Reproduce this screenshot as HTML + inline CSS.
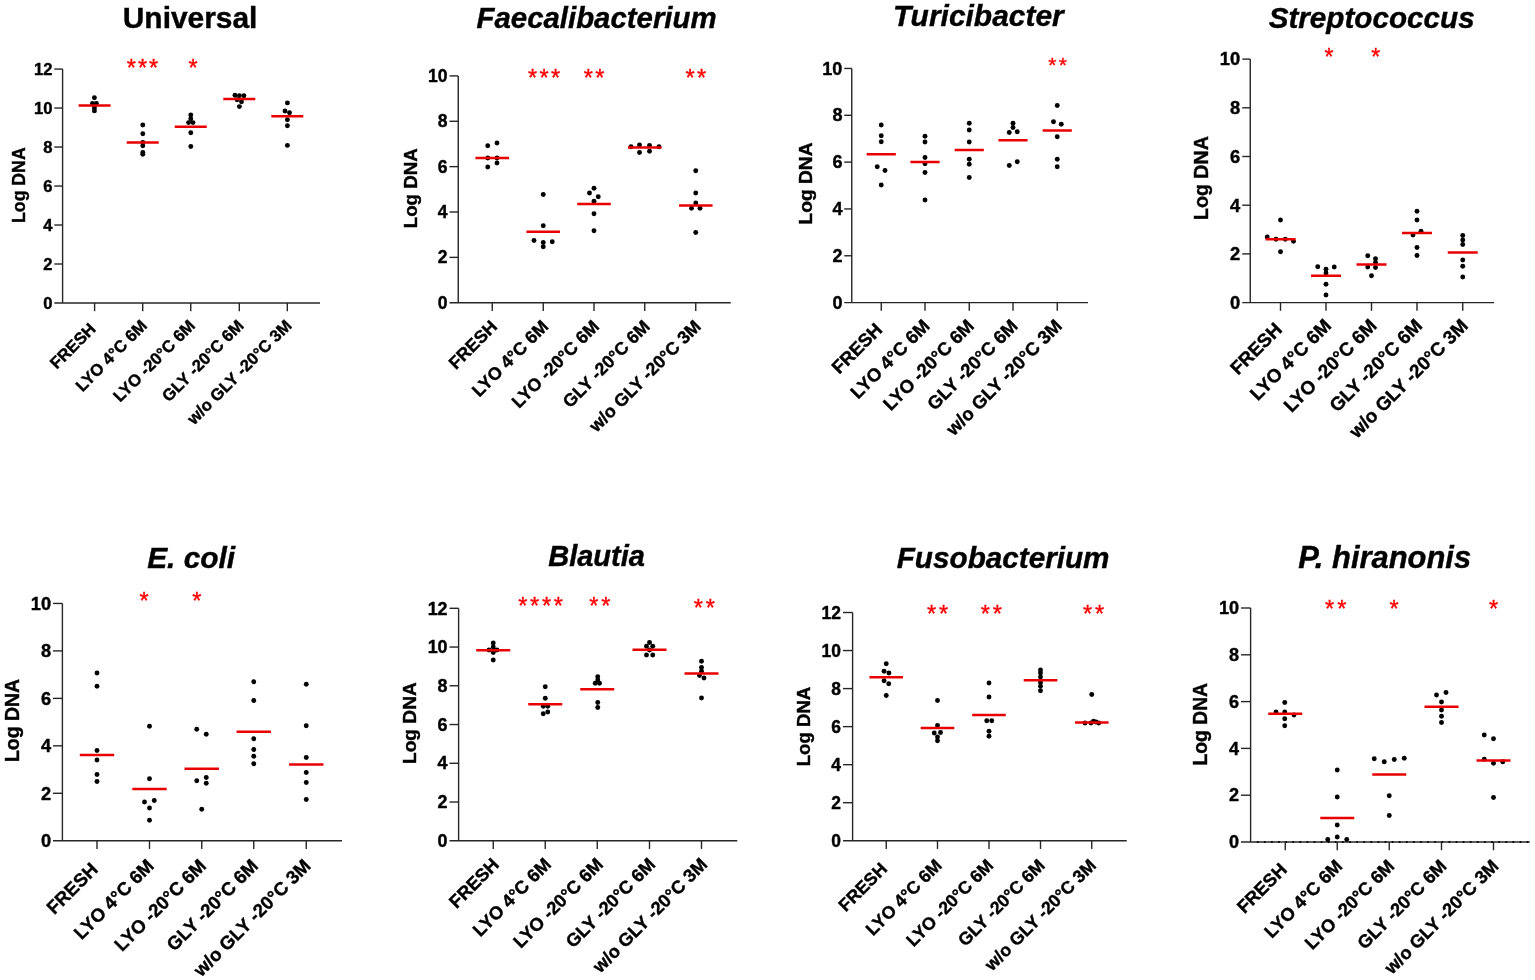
<!DOCTYPE html>
<html><head><meta charset="utf-8"><title>Log DNA by storage condition</title>
<style>html,body{margin:0;padding:0;background:#fff;width:1535px;height:980px;overflow:hidden}svg{display:block}
text{font-family:"Liberation Sans", Arial, sans-serif;font-weight:bold;fill:#000;stroke:#000;stroke-width:0.4px;paint-order:stroke}.s{fill:#f00;stroke:#f00;stroke-width:0.35px;font-weight:normal}</style></head>
<body><svg width="1535" height="980" viewBox="0 0 1535 980">
<rect width="1535" height="980" fill="#fff"/>
<text x="190.1" y="28.25" text-anchor="middle" font-size="29.92">Universal</text>
<line x1="62.6" y1="69.06" x2="62.6" y2="303" stroke="#262626" stroke-width="1.4"/>
<line x1="54.3" y1="303" x2="320" y2="303" stroke="#262626" stroke-width="1.4"/>
<text x="52.4" y="308.73" text-anchor="end" font-size="16.6">0</text>
<line x1="54.3" y1="264.01" x2="62.6" y2="264.01" stroke="#262626" stroke-width="1.4"/>
<text x="52.4" y="269.74" text-anchor="end" font-size="16.6">2</text>
<line x1="54.3" y1="225.02" x2="62.6" y2="225.02" stroke="#262626" stroke-width="1.4"/>
<text x="52.4" y="230.75" text-anchor="end" font-size="16.6">4</text>
<line x1="54.3" y1="186.03" x2="62.6" y2="186.03" stroke="#262626" stroke-width="1.4"/>
<text x="52.4" y="191.76" text-anchor="end" font-size="16.6">6</text>
<line x1="54.3" y1="147.04" x2="62.6" y2="147.04" stroke="#262626" stroke-width="1.4"/>
<text x="52.4" y="152.77" text-anchor="end" font-size="16.6">8</text>
<line x1="54.3" y1="108.05" x2="62.6" y2="108.05" stroke="#262626" stroke-width="1.4"/>
<text x="52.4" y="113.78" text-anchor="end" font-size="16.6">10</text>
<line x1="54.3" y1="69.06" x2="62.6" y2="69.06" stroke="#262626" stroke-width="1.4"/>
<text x="52.4" y="74.79" text-anchor="end" font-size="16.6">12</text>
<line x1="94.6" y1="303" x2="94.6" y2="311.2" stroke="#262626" stroke-width="1.4"/>
<text transform="translate(96.72,329.98) rotate(-45)" text-anchor="end" font-size="16.64">FRESH</text>
<line x1="142.7" y1="303" x2="142.7" y2="311.2" stroke="#262626" stroke-width="1.4"/>
<text transform="translate(148.09,326.71) rotate(-45)" text-anchor="end" font-size="16.64">LYO 4°C 6M</text>
<line x1="190.75" y1="303" x2="190.75" y2="311.2" stroke="#262626" stroke-width="1.4"/>
<text transform="translate(196.14,326.71) rotate(-45)" text-anchor="end" font-size="16.64">LYO -20°C 6M</text>
<line x1="239.3" y1="303" x2="239.3" y2="311.2" stroke="#262626" stroke-width="1.4"/>
<text transform="translate(244.69,326.71) rotate(-45)" text-anchor="end" font-size="16.64">GLY -20°C 6M</text>
<line x1="287.3" y1="303" x2="287.3" y2="311.2" stroke="#262626" stroke-width="1.4"/>
<text transform="translate(292.69,326.71) rotate(-45)" text-anchor="end" font-size="16.64">w/o GLY -20°C 3M</text>
<text transform="translate(24.5,185.15) rotate(-90)" text-anchor="middle" font-size="17.7">Log DNA</text>
<text class="s" x="131.45" y="76.29" text-anchor="middle" font-size="23.5">*</text>
<text class="s" x="142.55" y="76.29" text-anchor="middle" font-size="23.5">*</text>
<text class="s" x="153.65" y="76.29" text-anchor="middle" font-size="23.5">*</text>
<text class="s" x="193.05" y="76.29" text-anchor="middle" font-size="23.5">*</text>
<circle cx="94.4" cy="97.8" r="2.45"/>
<circle cx="92.5" cy="103.5" r="2.45"/>
<circle cx="96.4" cy="103.5" r="2.45"/>
<circle cx="94.4" cy="105.5" r="2.45"/>
<circle cx="94.4" cy="107.9" r="2.45"/>
<circle cx="94.4" cy="110.9" r="2.45"/>
<circle cx="142.8" cy="125" r="2.45"/>
<circle cx="142.8" cy="133.8" r="2.45"/>
<circle cx="142.8" cy="142.5" r="2.45"/>
<circle cx="142.8" cy="145.7" r="2.45"/>
<circle cx="142.8" cy="152.4" r="2.45"/>
<circle cx="142.8" cy="154.3" r="2.45"/>
<circle cx="190.8" cy="114.9" r="2.45"/>
<circle cx="190.8" cy="118.8" r="2.45"/>
<circle cx="188.6" cy="122.6" r="2.45"/>
<circle cx="193" cy="122.6" r="2.45"/>
<circle cx="190.8" cy="132.8" r="2.45"/>
<circle cx="190.8" cy="146.5" r="2.45"/>
<circle cx="235" cy="95.2" r="2.45"/>
<circle cx="239.4" cy="95.7" r="2.45"/>
<circle cx="243.9" cy="95.7" r="2.45"/>
<circle cx="237.1" cy="99.8" r="2.45"/>
<circle cx="241.5" cy="101.7" r="2.45"/>
<circle cx="239.4" cy="106.6" r="2.45"/>
<circle cx="287.4" cy="102.9" r="2.45"/>
<circle cx="285" cy="111" r="2.45"/>
<circle cx="289.5" cy="112.7" r="2.45"/>
<circle cx="287.4" cy="119.8" r="2.45"/>
<circle cx="287.4" cy="125.7" r="2.45"/>
<circle cx="287.4" cy="145.4" r="2.45"/>
<line x1="78.6" y1="105.5" x2="110.6" y2="105.5" stroke="#e80000" stroke-width="2.5"/>
<line x1="126.7" y1="142.5" x2="158.7" y2="142.5" stroke="#e80000" stroke-width="2.5"/>
<line x1="174.75" y1="126.7" x2="206.75" y2="126.7" stroke="#e80000" stroke-width="2.5"/>
<line x1="223.3" y1="99.1" x2="255.3" y2="99.1" stroke="#e80000" stroke-width="2.5"/>
<line x1="271.3" y1="116.2" x2="303.3" y2="116.2" stroke="#e80000" stroke-width="2.5"/>
<text x="596.54" y="28.2" text-anchor="middle" font-size="29.39" font-style="italic">Faecalibacterium</text>
<line x1="458.25" y1="75.9" x2="458.25" y2="302.75" stroke="#262626" stroke-width="1.4"/>
<line x1="449.5" y1="302.75" x2="730.75" y2="302.75" stroke="#262626" stroke-width="1.4"/>
<text x="447.6" y="308.8" text-anchor="end" font-size="17.53">0</text>
<line x1="449.5" y1="257.38" x2="458.25" y2="257.38" stroke="#262626" stroke-width="1.4"/>
<text x="447.6" y="263.43" text-anchor="end" font-size="17.53">2</text>
<line x1="449.5" y1="212.01" x2="458.25" y2="212.01" stroke="#262626" stroke-width="1.4"/>
<text x="447.6" y="218.06" text-anchor="end" font-size="17.53">4</text>
<line x1="449.5" y1="166.64" x2="458.25" y2="166.64" stroke="#262626" stroke-width="1.4"/>
<text x="447.6" y="172.69" text-anchor="end" font-size="17.53">6</text>
<line x1="449.5" y1="121.27" x2="458.25" y2="121.27" stroke="#262626" stroke-width="1.4"/>
<text x="447.6" y="127.32" text-anchor="end" font-size="17.53">8</text>
<line x1="449.5" y1="75.9" x2="458.25" y2="75.9" stroke="#262626" stroke-width="1.4"/>
<text x="447.6" y="81.95" text-anchor="end" font-size="17.53">10</text>
<line x1="492.25" y1="302.75" x2="492.25" y2="310.95" stroke="#262626" stroke-width="1.4"/>
<text transform="translate(498.39,327.66) rotate(-45)" text-anchor="end" font-size="17.74">FRESH</text>
<line x1="543.25" y1="302.75" x2="543.25" y2="310.95" stroke="#262626" stroke-width="1.4"/>
<text transform="translate(549.39,327.66) rotate(-45)" text-anchor="end" font-size="17.74">LYO 4°C 6M</text>
<line x1="594" y1="302.75" x2="594" y2="310.95" stroke="#262626" stroke-width="1.4"/>
<text transform="translate(600.14,327.66) rotate(-45)" text-anchor="end" font-size="17.74">LYO -20°C 6M</text>
<line x1="644.75" y1="302.75" x2="644.75" y2="310.95" stroke="#262626" stroke-width="1.4"/>
<text transform="translate(650.89,327.66) rotate(-45)" text-anchor="end" font-size="17.74">GLY -20°C 6M</text>
<line x1="695.75" y1="302.75" x2="695.75" y2="310.95" stroke="#262626" stroke-width="1.4"/>
<text transform="translate(701.89,327.66) rotate(-45)" text-anchor="end" font-size="17.74">w/o GLY -20°C 3M</text>
<text transform="translate(417,188.3) rotate(-90)" text-anchor="middle" font-size="18.69">Log DNA</text>
<text class="s" x="532.6" y="85.94" text-anchor="middle" font-size="23.5">*</text>
<text class="s" x="544.1" y="85.94" text-anchor="middle" font-size="23.5">*</text>
<text class="s" x="555.6" y="85.94" text-anchor="middle" font-size="23.5">*</text>
<text class="s" x="588.4" y="85.94" text-anchor="middle" font-size="23.5">*</text>
<text class="s" x="599.9" y="85.94" text-anchor="middle" font-size="23.5">*</text>
<text class="s" x="690.15" y="85.94" text-anchor="middle" font-size="23.5">*</text>
<text class="s" x="701.65" y="85.94" text-anchor="middle" font-size="23.5">*</text>
<circle cx="487.75" cy="145.75" r="2.45"/>
<circle cx="497" cy="143" r="2.45"/>
<circle cx="487.75" cy="158" r="2.45"/>
<circle cx="497" cy="158" r="2.45"/>
<circle cx="487.75" cy="167" r="2.45"/>
<circle cx="497" cy="163" r="2.45"/>
<circle cx="543.25" cy="194.5" r="2.45"/>
<circle cx="543.25" cy="225.75" r="2.45"/>
<circle cx="534" cy="240.5" r="2.45"/>
<circle cx="543.25" cy="242.5" r="2.45"/>
<circle cx="552.25" cy="241.75" r="2.45"/>
<circle cx="543.25" cy="246.75" r="2.45"/>
<circle cx="594" cy="188.25" r="2.45"/>
<circle cx="589.5" cy="193" r="2.45"/>
<circle cx="598.25" cy="196.75" r="2.45"/>
<circle cx="594" cy="201.25" r="2.45"/>
<circle cx="594" cy="213.75" r="2.45"/>
<circle cx="594" cy="230.75" r="2.45"/>
<circle cx="631" cy="146.75" r="2.45"/>
<circle cx="639.5" cy="145" r="2.45"/>
<circle cx="649.5" cy="145.5" r="2.45"/>
<circle cx="659" cy="146.75" r="2.45"/>
<circle cx="639.5" cy="152.5" r="2.45"/>
<circle cx="649.5" cy="151.25" r="2.45"/>
<circle cx="695.75" cy="170.75" r="2.45"/>
<circle cx="695.75" cy="193" r="2.45"/>
<circle cx="695.75" cy="203" r="2.45"/>
<circle cx="691.5" cy="208.25" r="2.45"/>
<circle cx="700" cy="208.25" r="2.45"/>
<circle cx="695.75" cy="232.5" r="2.45"/>
<line x1="475.45" y1="158" x2="509.05" y2="158" stroke="#e80000" stroke-width="2.5"/>
<line x1="526.45" y1="231.75" x2="560.05" y2="231.75" stroke="#e80000" stroke-width="2.5"/>
<line x1="577.2" y1="204" x2="610.8" y2="204" stroke="#e80000" stroke-width="2.5"/>
<line x1="627.95" y1="147.5" x2="661.55" y2="147.5" stroke="#e80000" stroke-width="2.5"/>
<line x1="678.95" y1="205.5" x2="712.55" y2="205.5" stroke="#e80000" stroke-width="2.5"/>
<text x="978.3" y="26.4" text-anchor="middle" font-size="29.95" font-style="italic">Turicibacter</text>
<line x1="851.75" y1="68.45" x2="851.75" y2="302.6" stroke="#262626" stroke-width="1.4"/>
<line x1="844.25" y1="302.6" x2="1088" y2="302.6" stroke="#262626" stroke-width="1.4"/>
<text x="842.4" y="308.81" text-anchor="end" font-size="18.01">0</text>
<line x1="844.25" y1="255.77" x2="851.75" y2="255.77" stroke="#262626" stroke-width="1.4"/>
<text x="842.4" y="261.98" text-anchor="end" font-size="18.01">2</text>
<line x1="844.25" y1="208.94" x2="851.75" y2="208.94" stroke="#262626" stroke-width="1.4"/>
<text x="842.4" y="215.15" text-anchor="end" font-size="18.01">4</text>
<line x1="844.25" y1="162.11" x2="851.75" y2="162.11" stroke="#262626" stroke-width="1.4"/>
<text x="842.4" y="168.32" text-anchor="end" font-size="18.01">6</text>
<line x1="844.25" y1="115.28" x2="851.75" y2="115.28" stroke="#262626" stroke-width="1.4"/>
<text x="842.4" y="121.49" text-anchor="end" font-size="18.01">8</text>
<line x1="844.25" y1="68.45" x2="851.75" y2="68.45" stroke="#262626" stroke-width="1.4"/>
<text x="842.4" y="74.66" text-anchor="end" font-size="18.01">10</text>
<line x1="881.25" y1="302.6" x2="881.25" y2="310.8" stroke="#262626" stroke-width="1.4"/>
<text transform="translate(883.4,330.75) rotate(-45)" text-anchor="end" font-size="18.42">FRESH</text>
<line x1="925" y1="302.6" x2="925" y2="310.8" stroke="#262626" stroke-width="1.4"/>
<text transform="translate(930.77,327.13) rotate(-45)" text-anchor="end" font-size="18.42">LYO 4°C 6M</text>
<line x1="969.25" y1="302.6" x2="969.25" y2="310.8" stroke="#262626" stroke-width="1.4"/>
<text transform="translate(975.02,327.13) rotate(-45)" text-anchor="end" font-size="18.42">LYO -20°C 6M</text>
<line x1="1013" y1="302.6" x2="1013" y2="310.8" stroke="#262626" stroke-width="1.4"/>
<text transform="translate(1018.77,327.13) rotate(-45)" text-anchor="end" font-size="18.42">GLY -20°C 6M</text>
<line x1="1057.25" y1="302.6" x2="1057.25" y2="310.8" stroke="#262626" stroke-width="1.4"/>
<text transform="translate(1063.02,327.13) rotate(-45)" text-anchor="end" font-size="18.42">w/o GLY -20°C 3M</text>
<text transform="translate(812,183.5) rotate(-90)" text-anchor="middle" font-size="19.2">Log DNA</text>
<text class="s" x="1052.4" y="72.36" text-anchor="middle" font-size="21">*</text>
<text class="s" x="1062.8" y="72.36" text-anchor="middle" font-size="21">*</text>
<circle cx="881.25" cy="125" r="2.45"/>
<circle cx="881.25" cy="135.75" r="2.45"/>
<circle cx="881.25" cy="141.75" r="2.45"/>
<circle cx="877.25" cy="166.75" r="2.45"/>
<circle cx="885" cy="170.5" r="2.45"/>
<circle cx="881.25" cy="185" r="2.45"/>
<circle cx="925" cy="136.25" r="2.45"/>
<circle cx="925" cy="142" r="2.45"/>
<circle cx="925" cy="157.5" r="2.45"/>
<circle cx="925" cy="163.75" r="2.45"/>
<circle cx="925" cy="172.5" r="2.45"/>
<circle cx="925" cy="200" r="2.45"/>
<circle cx="969.25" cy="123.25" r="2.45"/>
<circle cx="969.25" cy="130" r="2.45"/>
<circle cx="969.25" cy="142" r="2.45"/>
<circle cx="969.25" cy="159.25" r="2.45"/>
<circle cx="969.25" cy="164.25" r="2.45"/>
<circle cx="969.25" cy="177.5" r="2.45"/>
<circle cx="1013" cy="123.25" r="2.45"/>
<circle cx="1013" cy="127.5" r="2.45"/>
<circle cx="1009.25" cy="132.5" r="2.45"/>
<circle cx="1017.25" cy="131.75" r="2.45"/>
<circle cx="1009.25" cy="165.5" r="2.45"/>
<circle cx="1017.25" cy="161.75" r="2.45"/>
<circle cx="1057.25" cy="105.5" r="2.45"/>
<circle cx="1053.5" cy="121.75" r="2.45"/>
<circle cx="1061.25" cy="124.25" r="2.45"/>
<circle cx="1057.25" cy="136.75" r="2.45"/>
<circle cx="1057.25" cy="159.25" r="2.45"/>
<circle cx="1057.25" cy="166.75" r="2.45"/>
<line x1="866.65" y1="154.25" x2="895.85" y2="154.25" stroke="#e80000" stroke-width="2.5"/>
<line x1="910.4" y1="162" x2="939.6" y2="162" stroke="#e80000" stroke-width="2.5"/>
<line x1="954.65" y1="150" x2="983.85" y2="150" stroke="#e80000" stroke-width="2.5"/>
<line x1="998.4" y1="140.25" x2="1027.6" y2="140.25" stroke="#e80000" stroke-width="2.5"/>
<line x1="1042.65" y1="130.5" x2="1071.85" y2="130.5" stroke="#e80000" stroke-width="2.5"/>
<text x="1371.64" y="27.65" text-anchor="middle" font-size="29.66" font-style="italic">Streptococcus</text>
<line x1="1250.25" y1="59.1" x2="1250.25" y2="302.6" stroke="#262626" stroke-width="1.4"/>
<line x1="1242.25" y1="302.6" x2="1494" y2="302.6" stroke="#262626" stroke-width="1.4"/>
<text x="1240.2" y="308.94" text-anchor="end" font-size="18.38">0</text>
<line x1="1242.25" y1="253.9" x2="1250.25" y2="253.9" stroke="#262626" stroke-width="1.4"/>
<text x="1240.2" y="260.24" text-anchor="end" font-size="18.38">2</text>
<line x1="1242.25" y1="205.2" x2="1250.25" y2="205.2" stroke="#262626" stroke-width="1.4"/>
<text x="1240.2" y="211.54" text-anchor="end" font-size="18.38">4</text>
<line x1="1242.25" y1="156.5" x2="1250.25" y2="156.5" stroke="#262626" stroke-width="1.4"/>
<text x="1240.2" y="162.84" text-anchor="end" font-size="18.38">6</text>
<line x1="1242.25" y1="107.8" x2="1250.25" y2="107.8" stroke="#262626" stroke-width="1.4"/>
<text x="1240.2" y="114.14" text-anchor="end" font-size="18.38">8</text>
<line x1="1242.25" y1="59.1" x2="1250.25" y2="59.1" stroke="#262626" stroke-width="1.4"/>
<text x="1240.2" y="65.44" text-anchor="end" font-size="18.38">10</text>
<line x1="1280.5" y1="302.6" x2="1280.5" y2="310.8" stroke="#262626" stroke-width="1.4"/>
<text transform="translate(1283.08,330.62) rotate(-45)" text-anchor="end" font-size="18.88">FRESH</text>
<line x1="1326" y1="302.6" x2="1326" y2="310.8" stroke="#262626" stroke-width="1.4"/>
<text transform="translate(1332.29,326.91) rotate(-45)" text-anchor="end" font-size="18.88">LYO 4°C 6M</text>
<line x1="1371.5" y1="302.6" x2="1371.5" y2="310.8" stroke="#262626" stroke-width="1.4"/>
<text transform="translate(1377.79,326.91) rotate(-45)" text-anchor="end" font-size="18.88">LYO -20°C 6M</text>
<line x1="1417" y1="302.6" x2="1417" y2="310.8" stroke="#262626" stroke-width="1.4"/>
<text transform="translate(1423.29,326.91) rotate(-45)" text-anchor="end" font-size="18.88">GLY -20°C 6M</text>
<line x1="1462.75" y1="302.6" x2="1462.75" y2="310.8" stroke="#262626" stroke-width="1.4"/>
<text transform="translate(1469.04,326.91) rotate(-45)" text-anchor="end" font-size="18.88">w/o GLY -20°C 3M</text>
<text transform="translate(1207.6,178.1) rotate(-90)" text-anchor="middle" font-size="19.59">Log DNA</text>
<text class="s" x="1329.1" y="65.49" text-anchor="middle" font-size="23">*</text>
<text class="s" x="1375.7" y="65.49" text-anchor="middle" font-size="23">*</text>
<circle cx="1280.5" cy="220" r="2.45"/>
<circle cx="1267.25" cy="237" r="2.45"/>
<circle cx="1276" cy="239.25" r="2.45"/>
<circle cx="1285.25" cy="239.25" r="2.45"/>
<circle cx="1293.5" cy="241.25" r="2.45"/>
<circle cx="1280.5" cy="251.75" r="2.45"/>
<circle cx="1317.75" cy="266.75" r="2.45"/>
<circle cx="1326" cy="269.25" r="2.45"/>
<circle cx="1334.25" cy="267" r="2.45"/>
<circle cx="1326" cy="273" r="2.45"/>
<circle cx="1326" cy="284.25" r="2.45"/>
<circle cx="1326" cy="295" r="2.45"/>
<circle cx="1367.75" cy="255.75" r="2.45"/>
<circle cx="1375.5" cy="258.75" r="2.45"/>
<circle cx="1367.75" cy="267" r="2.45"/>
<circle cx="1375.5" cy="267.5" r="2.45"/>
<circle cx="1371.5" cy="275.75" r="2.45"/>
<circle cx="1375.5" cy="262.5" r="2.45"/>
<circle cx="1417" cy="211.25" r="2.45"/>
<circle cx="1417" cy="220" r="2.45"/>
<circle cx="1421" cy="231.25" r="2.45"/>
<circle cx="1413" cy="235" r="2.45"/>
<circle cx="1417" cy="247.5" r="2.45"/>
<circle cx="1417" cy="255.5" r="2.45"/>
<circle cx="1462.75" cy="235.5" r="2.45"/>
<circle cx="1462.75" cy="240" r="2.45"/>
<circle cx="1462.75" cy="244.5" r="2.45"/>
<circle cx="1462.75" cy="260" r="2.45"/>
<circle cx="1462.75" cy="266.25" r="2.45"/>
<circle cx="1462.75" cy="277" r="2.45"/>
<line x1="1265.5" y1="239.25" x2="1295.5" y2="239.25" stroke="#e80000" stroke-width="2.5"/>
<line x1="1311" y1="275.75" x2="1341" y2="275.75" stroke="#e80000" stroke-width="2.5"/>
<line x1="1356.5" y1="264.5" x2="1386.5" y2="264.5" stroke="#e80000" stroke-width="2.5"/>
<line x1="1402" y1="233" x2="1432" y2="233" stroke="#e80000" stroke-width="2.5"/>
<line x1="1447.75" y1="252.5" x2="1477.75" y2="252.5" stroke="#e80000" stroke-width="2.5"/>
<text x="191.15" y="568.4" text-anchor="middle" font-size="29.9" font-style="italic">E. coli</text>
<line x1="62.4" y1="603.45" x2="62.4" y2="840.75" stroke="#262626" stroke-width="1.4"/>
<line x1="53" y1="840.75" x2="342" y2="840.75" stroke="#262626" stroke-width="1.4"/>
<text x="51.1" y="847.05" text-anchor="end" font-size="18.26">0</text>
<line x1="53" y1="793.29" x2="62.4" y2="793.29" stroke="#262626" stroke-width="1.4"/>
<text x="51.1" y="799.59" text-anchor="end" font-size="18.26">2</text>
<line x1="53" y1="745.83" x2="62.4" y2="745.83" stroke="#262626" stroke-width="1.4"/>
<text x="51.1" y="752.13" text-anchor="end" font-size="18.26">4</text>
<line x1="53" y1="698.37" x2="62.4" y2="698.37" stroke="#262626" stroke-width="1.4"/>
<text x="51.1" y="704.67" text-anchor="end" font-size="18.26">6</text>
<line x1="53" y1="650.91" x2="62.4" y2="650.91" stroke="#262626" stroke-width="1.4"/>
<text x="51.1" y="657.21" text-anchor="end" font-size="18.26">8</text>
<line x1="53" y1="603.45" x2="62.4" y2="603.45" stroke="#262626" stroke-width="1.4"/>
<text x="51.1" y="609.75" text-anchor="end" font-size="18.26">10</text>
<line x1="97" y1="840.75" x2="97" y2="848.95" stroke="#262626" stroke-width="1.4"/>
<text transform="translate(98.92,870.58) rotate(-45)" text-anchor="end" font-size="18.61">FRESH</text>
<line x1="149.5" y1="840.75" x2="149.5" y2="848.95" stroke="#262626" stroke-width="1.4"/>
<text transform="translate(155.08,866.92) rotate(-45)" text-anchor="end" font-size="18.61">LYO 4°C 6M</text>
<line x1="201.75" y1="840.75" x2="201.75" y2="848.95" stroke="#262626" stroke-width="1.4"/>
<text transform="translate(207.33,866.92) rotate(-45)" text-anchor="end" font-size="18.61">LYO -20°C 6M</text>
<line x1="253.75" y1="840.75" x2="253.75" y2="848.95" stroke="#262626" stroke-width="1.4"/>
<text transform="translate(259.33,866.92) rotate(-45)" text-anchor="end" font-size="18.61">GLY -20°C 6M</text>
<line x1="306.25" y1="840.75" x2="306.25" y2="848.95" stroke="#262626" stroke-width="1.4"/>
<text transform="translate(311.83,866.92) rotate(-45)" text-anchor="end" font-size="18.61">w/o GLY -20°C 3M</text>
<text transform="translate(18.9,720.5) rotate(-90)" text-anchor="middle" font-size="19.47">Log DNA</text>
<text class="s" x="144" y="608.64" text-anchor="middle" font-size="23.5">*</text>
<text class="s" x="196.9" y="608.64" text-anchor="middle" font-size="23.5">*</text>
<circle cx="97" cy="673" r="2.45"/>
<circle cx="97" cy="686.25" r="2.45"/>
<circle cx="97" cy="750.5" r="2.45"/>
<circle cx="97" cy="760" r="2.45"/>
<circle cx="97" cy="774.5" r="2.45"/>
<circle cx="97" cy="781.5" r="2.45"/>
<circle cx="149.5" cy="726.25" r="2.45"/>
<circle cx="149.5" cy="778.75" r="2.45"/>
<circle cx="144.5" cy="802" r="2.45"/>
<circle cx="154.25" cy="800.5" r="2.45"/>
<circle cx="149.5" cy="808" r="2.45"/>
<circle cx="149.5" cy="820.25" r="2.45"/>
<circle cx="196.75" cy="729.25" r="2.45"/>
<circle cx="206.25" cy="734.25" r="2.45"/>
<circle cx="196.75" cy="780.75" r="2.45"/>
<circle cx="206.25" cy="777.5" r="2.45"/>
<circle cx="206.25" cy="783.25" r="2.45"/>
<circle cx="201.75" cy="809.25" r="2.45"/>
<circle cx="253.75" cy="681.75" r="2.45"/>
<circle cx="253.75" cy="700.5" r="2.45"/>
<circle cx="253.75" cy="738.75" r="2.45"/>
<circle cx="253.75" cy="749.5" r="2.45"/>
<circle cx="253.75" cy="756.25" r="2.45"/>
<circle cx="253.75" cy="763.75" r="2.45"/>
<circle cx="306.25" cy="684.25" r="2.45"/>
<circle cx="306.25" cy="725.75" r="2.45"/>
<circle cx="306.25" cy="757.5" r="2.45"/>
<circle cx="306.25" cy="772.5" r="2.45"/>
<circle cx="306.25" cy="782.5" r="2.45"/>
<circle cx="306.25" cy="799.5" r="2.45"/>
<line x1="79.8" y1="755" x2="114.2" y2="755" stroke="#e80000" stroke-width="2.5"/>
<line x1="132.3" y1="789" x2="166.7" y2="789" stroke="#e80000" stroke-width="2.5"/>
<line x1="184.55" y1="768.75" x2="218.95" y2="768.75" stroke="#e80000" stroke-width="2.5"/>
<line x1="236.55" y1="731.75" x2="270.95" y2="731.75" stroke="#e80000" stroke-width="2.5"/>
<line x1="289.05" y1="764.5" x2="323.45" y2="764.5" stroke="#e80000" stroke-width="2.5"/>
<text x="596.6" y="565.5" text-anchor="middle" font-size="29.02" font-style="italic">Blautia</text>
<line x1="458.6" y1="608.31" x2="458.6" y2="840.75" stroke="#262626" stroke-width="1.4"/>
<line x1="449.5" y1="840.75" x2="737.25" y2="840.75" stroke="#262626" stroke-width="1.4"/>
<text x="447.6" y="846.95" text-anchor="end" font-size="17.96">0</text>
<line x1="449.5" y1="802.01" x2="458.6" y2="802.01" stroke="#262626" stroke-width="1.4"/>
<text x="447.6" y="808.21" text-anchor="end" font-size="17.96">2</text>
<line x1="449.5" y1="763.27" x2="458.6" y2="763.27" stroke="#262626" stroke-width="1.4"/>
<text x="447.6" y="769.47" text-anchor="end" font-size="17.96">4</text>
<line x1="449.5" y1="724.53" x2="458.6" y2="724.53" stroke="#262626" stroke-width="1.4"/>
<text x="447.6" y="730.73" text-anchor="end" font-size="17.96">6</text>
<line x1="449.5" y1="685.79" x2="458.6" y2="685.79" stroke="#262626" stroke-width="1.4"/>
<text x="447.6" y="691.99" text-anchor="end" font-size="17.96">8</text>
<line x1="449.5" y1="647.05" x2="458.6" y2="647.05" stroke="#262626" stroke-width="1.4"/>
<text x="447.6" y="653.25" text-anchor="end" font-size="17.96">10</text>
<line x1="449.5" y1="608.31" x2="458.6" y2="608.31" stroke="#262626" stroke-width="1.4"/>
<text x="447.6" y="614.51" text-anchor="end" font-size="17.96">12</text>
<line x1="493.25" y1="840.75" x2="493.25" y2="848.95" stroke="#262626" stroke-width="1.4"/>
<text transform="translate(500.11,865.64) rotate(-45)" text-anchor="end" font-size="18.19">FRESH</text>
<line x1="545.25" y1="840.75" x2="545.25" y2="848.95" stroke="#262626" stroke-width="1.4"/>
<text transform="translate(552.11,865.64) rotate(-45)" text-anchor="end" font-size="18.19">LYO 4°C 6M</text>
<line x1="597.25" y1="840.75" x2="597.25" y2="848.95" stroke="#262626" stroke-width="1.4"/>
<text transform="translate(604.11,865.64) rotate(-45)" text-anchor="end" font-size="18.19">LYO -20°C 6M</text>
<line x1="649.5" y1="840.75" x2="649.5" y2="848.95" stroke="#262626" stroke-width="1.4"/>
<text transform="translate(656.36,865.64) rotate(-45)" text-anchor="end" font-size="18.19">GLY -20°C 6M</text>
<line x1="701.5" y1="840.75" x2="701.5" y2="848.95" stroke="#262626" stroke-width="1.4"/>
<text transform="translate(708.36,865.64) rotate(-45)" text-anchor="end" font-size="18.19">w/o GLY -20°C 3M</text>
<text transform="translate(415.5,723.1) rotate(-90)" text-anchor="middle" font-size="19.15">Log DNA</text>
<text class="s" x="522.83" y="613.54" text-anchor="middle" font-size="23.5">*</text>
<text class="s" x="534.68" y="613.54" text-anchor="middle" font-size="23.5">*</text>
<text class="s" x="546.52" y="613.54" text-anchor="middle" font-size="23.5">*</text>
<text class="s" x="558.38" y="613.54" text-anchor="middle" font-size="23.5">*</text>
<text class="s" x="593.88" y="613.54" text-anchor="middle" font-size="23.5">*</text>
<text class="s" x="605.72" y="613.54" text-anchor="middle" font-size="23.5">*</text>
<text class="s" x="698.38" y="615.94" text-anchor="middle" font-size="23.5">*</text>
<text class="s" x="710.22" y="615.94" text-anchor="middle" font-size="23.5">*</text>
<circle cx="493.25" cy="643" r="2.45"/>
<circle cx="489" cy="650" r="2.45"/>
<circle cx="497" cy="650" r="2.45"/>
<circle cx="493.25" cy="652.5" r="2.45"/>
<circle cx="493.25" cy="660" r="2.45"/>
<circle cx="493.25" cy="647" r="2.45"/>
<circle cx="545.25" cy="686.75" r="2.45"/>
<circle cx="545.25" cy="698.25" r="2.45"/>
<circle cx="543.25" cy="706.25" r="2.45"/>
<circle cx="547.75" cy="706.25" r="2.45"/>
<circle cx="543.25" cy="713.75" r="2.45"/>
<circle cx="547.75" cy="712" r="2.45"/>
<circle cx="597.75" cy="676.75" r="2.45"/>
<circle cx="595.25" cy="683.25" r="2.45"/>
<circle cx="599.5" cy="683.25" r="2.45"/>
<circle cx="597.75" cy="702.5" r="2.45"/>
<circle cx="597.75" cy="707.5" r="2.45"/>
<circle cx="597.75" cy="680" r="2.45"/>
<circle cx="649.5" cy="642.5" r="2.45"/>
<circle cx="646.5" cy="646.25" r="2.45"/>
<circle cx="652.75" cy="646.25" r="2.45"/>
<circle cx="646.5" cy="655" r="2.45"/>
<circle cx="652.75" cy="655" r="2.45"/>
<circle cx="649.5" cy="650" r="2.45"/>
<circle cx="701.5" cy="661.25" r="2.45"/>
<circle cx="701.5" cy="667.5" r="2.45"/>
<circle cx="701.5" cy="671.25" r="2.45"/>
<circle cx="699.5" cy="675.5" r="2.45"/>
<circle cx="704" cy="678" r="2.45"/>
<circle cx="701.5" cy="698" r="2.45"/>
<line x1="476.25" y1="650.25" x2="510.25" y2="650.25" stroke="#e80000" stroke-width="2.5"/>
<line x1="528.25" y1="704.25" x2="562.25" y2="704.25" stroke="#e80000" stroke-width="2.5"/>
<line x1="580.25" y1="689.25" x2="614.25" y2="689.25" stroke="#e80000" stroke-width="2.5"/>
<line x1="632.5" y1="649.75" x2="666.5" y2="649.75" stroke="#e80000" stroke-width="2.5"/>
<line x1="684.5" y1="673.5" x2="718.5" y2="673.5" stroke="#e80000" stroke-width="2.5"/>
<text x="1003.1" y="568.3" text-anchor="middle" font-size="29.68" font-style="italic">Fusobacterium</text>
<line x1="852.6" y1="612.51" x2="852.6" y2="840.75" stroke="#262626" stroke-width="1.4"/>
<line x1="843" y1="840.75" x2="1126.75" y2="840.75" stroke="#262626" stroke-width="1.4"/>
<text x="840.9" y="846.76" text-anchor="end" font-size="17.43">0</text>
<line x1="843" y1="802.71" x2="852.6" y2="802.71" stroke="#262626" stroke-width="1.4"/>
<text x="840.9" y="808.72" text-anchor="end" font-size="17.43">2</text>
<line x1="843" y1="764.67" x2="852.6" y2="764.67" stroke="#262626" stroke-width="1.4"/>
<text x="840.9" y="770.68" text-anchor="end" font-size="17.43">4</text>
<line x1="843" y1="726.63" x2="852.6" y2="726.63" stroke="#262626" stroke-width="1.4"/>
<text x="840.9" y="732.64" text-anchor="end" font-size="17.43">6</text>
<line x1="843" y1="688.59" x2="852.6" y2="688.59" stroke="#262626" stroke-width="1.4"/>
<text x="840.9" y="694.6" text-anchor="end" font-size="17.43">8</text>
<line x1="843" y1="650.55" x2="852.6" y2="650.55" stroke="#262626" stroke-width="1.4"/>
<text x="840.9" y="656.56" text-anchor="end" font-size="17.43">10</text>
<line x1="843" y1="612.51" x2="852.6" y2="612.51" stroke="#262626" stroke-width="1.4"/>
<text x="840.9" y="618.52" text-anchor="end" font-size="17.43">12</text>
<line x1="886.25" y1="840.75" x2="886.25" y2="848.95" stroke="#262626" stroke-width="1.4"/>
<text transform="translate(888.21,870.04) rotate(-45)" text-anchor="end" font-size="17.71">FRESH</text>
<line x1="937.5" y1="840.75" x2="937.5" y2="848.95" stroke="#262626" stroke-width="1.4"/>
<text transform="translate(942.94,866.56) rotate(-45)" text-anchor="end" font-size="17.71">LYO 4°C 6M</text>
<line x1="989" y1="840.75" x2="989" y2="848.95" stroke="#262626" stroke-width="1.4"/>
<text transform="translate(994.44,866.56) rotate(-45)" text-anchor="end" font-size="17.71">LYO -20°C 6M</text>
<line x1="1040.5" y1="840.75" x2="1040.5" y2="848.95" stroke="#262626" stroke-width="1.4"/>
<text transform="translate(1045.94,866.56) rotate(-45)" text-anchor="end" font-size="17.71">GLY -20°C 6M</text>
<line x1="1091.75" y1="840.75" x2="1091.75" y2="848.95" stroke="#262626" stroke-width="1.4"/>
<text transform="translate(1097.19,866.56) rotate(-45)" text-anchor="end" font-size="17.71">w/o GLY -20°C 3M</text>
<text transform="translate(809.5,726.5) rotate(-90)" text-anchor="middle" font-size="18.59">Log DNA</text>
<text class="s" x="931.5" y="622.14" text-anchor="middle" font-size="23.5">*</text>
<text class="s" x="943.5" y="622.14" text-anchor="middle" font-size="23.5">*</text>
<text class="s" x="985.35" y="622.14" text-anchor="middle" font-size="23.5">*</text>
<text class="s" x="997.35" y="622.14" text-anchor="middle" font-size="23.5">*</text>
<text class="s" x="1087.5" y="622.14" text-anchor="middle" font-size="23.5">*</text>
<text class="s" x="1099.5" y="622.14" text-anchor="middle" font-size="23.5">*</text>
<circle cx="886.25" cy="663.75" r="2.45"/>
<circle cx="884.05" cy="671.25" r="2.45"/>
<circle cx="888.9" cy="673" r="2.45"/>
<circle cx="884.05" cy="680.75" r="2.45"/>
<circle cx="888.75" cy="683.75" r="2.45"/>
<circle cx="886.25" cy="695.5" r="2.45"/>
<circle cx="937.5" cy="700.5" r="2.45"/>
<circle cx="937.5" cy="725.5" r="2.45"/>
<circle cx="934.25" cy="733" r="2.45"/>
<circle cx="940.5" cy="732.5" r="2.45"/>
<circle cx="937.5" cy="737" r="2.45"/>
<circle cx="937.5" cy="740.75" r="2.45"/>
<circle cx="989" cy="683" r="2.45"/>
<circle cx="989" cy="697" r="2.45"/>
<circle cx="986.75" cy="720.75" r="2.45"/>
<circle cx="991.75" cy="720.75" r="2.45"/>
<circle cx="989" cy="731.25" r="2.45"/>
<circle cx="989" cy="736.25" r="2.45"/>
<circle cx="1040.5" cy="670" r="2.45"/>
<circle cx="1040.5" cy="673" r="2.45"/>
<circle cx="1040.5" cy="677" r="2.45"/>
<circle cx="1040.5" cy="682.5" r="2.45"/>
<circle cx="1040.5" cy="686.25" r="2.45"/>
<circle cx="1040.5" cy="690.75" r="2.45"/>
<circle cx="1091.75" cy="694.5" r="2.45"/>
<circle cx="1085" cy="723" r="2.45"/>
<circle cx="1093.5" cy="721.25" r="2.45"/>
<circle cx="1098.75" cy="723" r="2.45"/>
<circle cx="1091" cy="723" r="2.45"/>
<circle cx="1096" cy="722" r="2.45"/>
<line x1="869.45" y1="677.25" x2="903.05" y2="677.25" stroke="#e80000" stroke-width="2.5"/>
<line x1="920.7" y1="728" x2="954.3" y2="728" stroke="#e80000" stroke-width="2.5"/>
<line x1="972.2" y1="715" x2="1005.8" y2="715" stroke="#e80000" stroke-width="2.5"/>
<line x1="1023.7" y1="680.25" x2="1057.3" y2="680.25" stroke="#e80000" stroke-width="2.5"/>
<line x1="1074.95" y1="722.5" x2="1108.55" y2="722.5" stroke="#e80000" stroke-width="2.5"/>
<text x="1384.7" y="568.4" text-anchor="middle" font-size="30.92" font-style="italic">P. hiranonis</text>
<line x1="1250.6" y1="608" x2="1250.6" y2="842" stroke="#262626" stroke-width="1.4"/>
<line x1="1241" y1="842" x2="1529.75" y2="842" stroke="#262626" stroke-width="1.4"/>
<circle cx="1257.7" cy="842" r="1.05"/>
<circle cx="1264.8" cy="842" r="1.05"/>
<circle cx="1271.9" cy="842" r="1.05"/>
<circle cx="1279" cy="842" r="1.05"/>
<circle cx="1286.1" cy="842" r="1.05"/>
<circle cx="1293.2" cy="842" r="1.05"/>
<circle cx="1300.3" cy="842" r="1.05"/>
<circle cx="1307.4" cy="842" r="1.05"/>
<circle cx="1314.5" cy="842" r="1.05"/>
<circle cx="1321.6" cy="842" r="1.05"/>
<circle cx="1328.7" cy="842" r="1.05"/>
<circle cx="1335.8" cy="842" r="1.05"/>
<circle cx="1342.9" cy="842" r="1.05"/>
<circle cx="1350" cy="842" r="1.05"/>
<circle cx="1357.1" cy="842" r="1.05"/>
<circle cx="1364.2" cy="842" r="1.05"/>
<circle cx="1371.3" cy="842" r="1.05"/>
<circle cx="1378.4" cy="842" r="1.05"/>
<circle cx="1385.5" cy="842" r="1.05"/>
<circle cx="1392.6" cy="842" r="1.05"/>
<circle cx="1399.7" cy="842" r="1.05"/>
<circle cx="1406.8" cy="842" r="1.05"/>
<circle cx="1413.9" cy="842" r="1.05"/>
<circle cx="1421" cy="842" r="1.05"/>
<circle cx="1428.1" cy="842" r="1.05"/>
<circle cx="1435.2" cy="842" r="1.05"/>
<circle cx="1442.3" cy="842" r="1.05"/>
<circle cx="1449.4" cy="842" r="1.05"/>
<circle cx="1456.5" cy="842" r="1.05"/>
<circle cx="1463.6" cy="842" r="1.05"/>
<circle cx="1470.7" cy="842" r="1.05"/>
<circle cx="1477.8" cy="842" r="1.05"/>
<circle cx="1484.9" cy="842" r="1.05"/>
<circle cx="1492" cy="842" r="1.05"/>
<circle cx="1499.1" cy="842" r="1.05"/>
<circle cx="1506.2" cy="842" r="1.05"/>
<circle cx="1513.3" cy="842" r="1.05"/>
<circle cx="1520.4" cy="842" r="1.05"/>
<circle cx="1527.5" cy="842" r="1.05"/>
<text x="1239" y="848.24" text-anchor="end" font-size="18.09">0</text>
<line x1="1241" y1="795.2" x2="1250.6" y2="795.2" stroke="#262626" stroke-width="1.4"/>
<text x="1239" y="801.44" text-anchor="end" font-size="18.09">2</text>
<line x1="1241" y1="748.4" x2="1250.6" y2="748.4" stroke="#262626" stroke-width="1.4"/>
<text x="1239" y="754.64" text-anchor="end" font-size="18.09">4</text>
<line x1="1241" y1="701.6" x2="1250.6" y2="701.6" stroke="#262626" stroke-width="1.4"/>
<text x="1239" y="707.84" text-anchor="end" font-size="18.09">6</text>
<line x1="1241" y1="654.8" x2="1250.6" y2="654.8" stroke="#262626" stroke-width="1.4"/>
<text x="1239" y="661.04" text-anchor="end" font-size="18.09">8</text>
<line x1="1241" y1="608" x2="1250.6" y2="608" stroke="#262626" stroke-width="1.4"/>
<text x="1239" y="614.24" text-anchor="end" font-size="18.09">10</text>
<line x1="1285.25" y1="842" x2="1285.25" y2="850.2" stroke="#262626" stroke-width="1.4"/>
<text transform="translate(1287.94,870.81) rotate(-45)" text-anchor="end" font-size="18.16">FRESH</text>
<line x1="1337.25" y1="842" x2="1337.25" y2="850.2" stroke="#262626" stroke-width="1.4"/>
<text transform="translate(1343.51,867.24) rotate(-45)" text-anchor="end" font-size="18.16">LYO 4°C 6M</text>
<line x1="1389.25" y1="842" x2="1389.25" y2="850.2" stroke="#262626" stroke-width="1.4"/>
<text transform="translate(1395.51,867.24) rotate(-45)" text-anchor="end" font-size="18.16">LYO -20°C 6M</text>
<line x1="1441.5" y1="842" x2="1441.5" y2="850.2" stroke="#262626" stroke-width="1.4"/>
<text transform="translate(1447.76,867.24) rotate(-45)" text-anchor="end" font-size="18.16">GLY -20°C 6M</text>
<line x1="1493.5" y1="842" x2="1493.5" y2="850.2" stroke="#262626" stroke-width="1.4"/>
<text transform="translate(1499.76,867.24) rotate(-45)" text-anchor="end" font-size="18.16">w/o GLY -20°C 3M</text>
<text transform="translate(1207,724.25) rotate(-90)" text-anchor="middle" font-size="19.29">Log DNA</text>
<text class="s" x="1329.6" y="616.79" text-anchor="middle" font-size="23.5">*</text>
<text class="s" x="1341.8" y="616.79" text-anchor="middle" font-size="23.5">*</text>
<text class="s" x="1394.2" y="616.79" text-anchor="middle" font-size="23.5">*</text>
<text class="s" x="1493.5" y="616.79" text-anchor="middle" font-size="23.5">*</text>
<circle cx="1284.75" cy="702.5" r="2.45"/>
<circle cx="1276" cy="712" r="2.45"/>
<circle cx="1284.75" cy="712" r="2.45"/>
<circle cx="1294" cy="715" r="2.45"/>
<circle cx="1284.75" cy="718.75" r="2.45"/>
<circle cx="1284.75" cy="725.75" r="2.45"/>
<circle cx="1337.25" cy="770" r="2.45"/>
<circle cx="1337.25" cy="797" r="2.45"/>
<circle cx="1337.25" cy="825" r="2.45"/>
<circle cx="1327.75" cy="839.5" r="2.45"/>
<circle cx="1337.25" cy="837" r="2.45"/>
<circle cx="1346.75" cy="839.5" r="2.45"/>
<circle cx="1374.25" cy="758.75" r="2.45"/>
<circle cx="1384.25" cy="761.75" r="2.45"/>
<circle cx="1394.25" cy="759.5" r="2.45"/>
<circle cx="1404.25" cy="758.25" r="2.45"/>
<circle cx="1389.25" cy="795.75" r="2.45"/>
<circle cx="1389.25" cy="815.5" r="2.45"/>
<circle cx="1436.5" cy="695" r="2.45"/>
<circle cx="1446" cy="692.5" r="2.45"/>
<circle cx="1441.5" cy="702" r="2.45"/>
<circle cx="1441.5" cy="710" r="2.45"/>
<circle cx="1441.5" cy="716.25" r="2.45"/>
<circle cx="1441.5" cy="722.5" r="2.45"/>
<circle cx="1484.25" cy="735" r="2.45"/>
<circle cx="1493.5" cy="738.75" r="2.45"/>
<circle cx="1484.25" cy="759.25" r="2.45"/>
<circle cx="1493.5" cy="763.25" r="2.45"/>
<circle cx="1502.75" cy="761.75" r="2.45"/>
<circle cx="1493.5" cy="797.5" r="2.45"/>
<line x1="1268.25" y1="713.75" x2="1302.25" y2="713.75" stroke="#e80000" stroke-width="2.5"/>
<line x1="1320.25" y1="818" x2="1354.25" y2="818" stroke="#e80000" stroke-width="2.5"/>
<line x1="1372.25" y1="774.5" x2="1406.25" y2="774.5" stroke="#e80000" stroke-width="2.5"/>
<line x1="1424.5" y1="706.75" x2="1458.5" y2="706.75" stroke="#e80000" stroke-width="2.5"/>
<line x1="1476.5" y1="760.5" x2="1510.5" y2="760.5" stroke="#e80000" stroke-width="2.5"/>
</svg></body></html>
